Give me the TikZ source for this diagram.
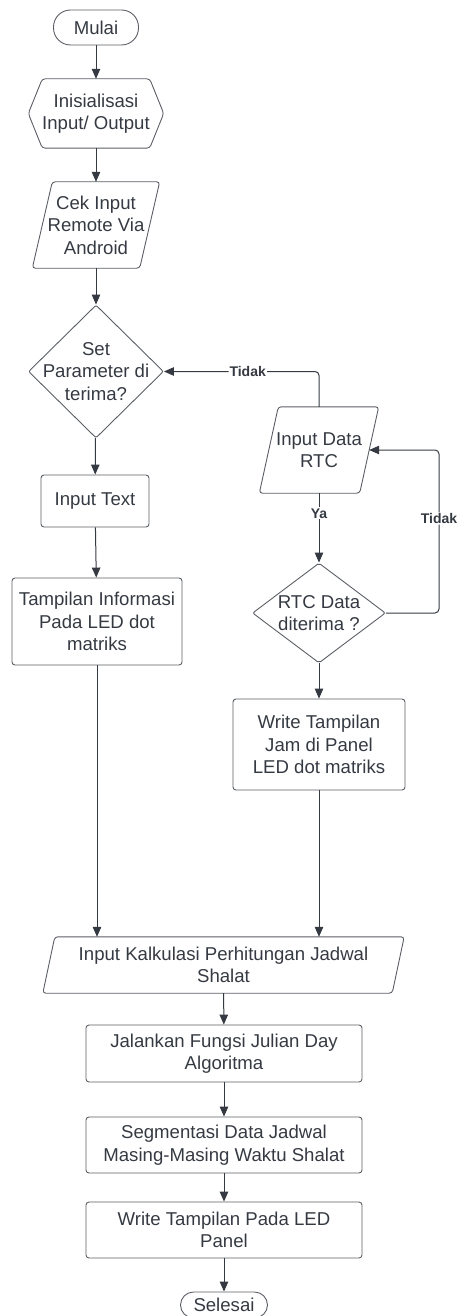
\documentclass[tikz,border=0pt]{standalone}
\usepackage{fontspec}
\setmainfont{Liberation Sans}
\usepackage{xcolor}
\usepackage{tikz}
\usetikzlibrary{positioning, arrows.meta, shapes.geometric}
\definecolor{inkgrey}{HTML}{353A42}
\definecolor{boxgrey}{HTML}{5A5E64}
% slanted outline round a plain node: #1 node name, #2 slant
\newcommand{\ioshape}[2]{\draw [boxline]
  ([xshift=#2/2]#1.north west) -- ([xshift=#2/2]#1.north east)
  -- ([xshift=-#2/2]#1.south east) -- ([xshift=-#2/2]#1.south west) -- cycle;}

\begin{document}
\begin{tikzpicture}[x=1pt, y=-1pt,
  every node/.style={text=inkgrey, font=\fontsize{18.6}{22.5}\selectfont},
  boxline/.style={draw=boxgrey, line width=0.9pt, rounded corners=3pt},
  terminal/.style={boxline, rounded corners=13pt, inner sep=0pt},
  process/.style={boxline, align=center, inner sep=0pt},
  io/.style={align=center, inner sep=0pt},
  decision/.style={boxline, diamond, rounded corners=2pt, inner sep=0pt},
  question/.style={align=center, text=inkgrey},
  flow/.style={draw=inkgrey, line width=1pt, -{Triangle[length=10pt,width=8.5pt]}},
  answer/.style={fill=white, inner sep=1pt, font=\fontsize{14}{16}\selectfont\bfseries}]

\useasboundingbox (0,0) rectangle (460,1316);

% left column
\node [terminal,minimum width=85pt,minimum height=35pt,rounded corners=17pt](mulai) at (96,27.5) {Mulai};

\node [align=center,minimum width=135pt,minimum height=69pt,inner sep=0pt](init io) at (96,113.5) {Inisialisasi\\ Input/ Output};
\draw [boxline]
  ([xshift=14pt]init io.north west) -- ([xshift=-14pt]init io.north east) -- (init io.east)
  -- ([xshift=-14pt]init io.south east) -- ([xshift=14pt]init io.south west) -- (init io.west) -- cycle;

\node [io,minimum width=107pt,minimum height=86pt](cek remote) at (96,225) {Cek Input\\ Remote Via\\ Android};
\ioshape{cek remote}{20pt}

\node [decision,minimum width=135pt,minimum height=133pt,
  label={[question]center:Set\\ Parameter di\\ terima?}](set param) at (96,371.5) {};

\node [process,minimum width=108pt,minimum height=52pt](input text) at (95,501) {Input Text};

\node [process,minimum width=170pt,minimum height=87pt](tampil info) at (97,621.5) {Tampilan Informasi\\ Pada LED dot\\ matriks};

% right column
\node [io,minimum width=100pt,minimum height=86pt](rtc in) at (319,450) {Input Data\\ RTC};
\ioshape{rtc in}{19pt}

\node [decision,minimum width=133pt,minimum height=100pt,
  label={[question]center:RTC Data\\ diterima ?}](rtc dec) at (319,613) {};

\node [process,minimum width=172pt,minimum height=91pt](write jam) at (319,744.5) {Write Tampilan\\ Jam di Panel\\ LED dot matriks};

% bottom column
\node [io,minimum width=349pt,minimum height=56pt](kalk io) at (223.5,965) {Input Kalkulasi Perhitungan Jadwal\\ Shalat};
\ioshape{kalk io}{12pt}

\node [process,minimum width=276pt,minimum height=57pt](julian) at (224,1053.5) {Jalankan Fungsi Julian Day\\ Algoritma};

\node [process,minimum width=276pt,minimum height=56pt](segmen) at (224,1145) {Segmentasi Data Jadwal\\ Masing-Masing Waktu Shalat};

\node [process,minimum width=276pt,minimum height=56pt](write panel) at (224,1230) {Write Tampilan Pada LED\\ Panel};

\node [terminal,minimum width=87pt,minimum height=26pt](selesai) at (224,1305) {Selesai};

\coordinate (loop) at (439,613);

\path [flow] (mulai) -- (init io);
\path [flow] (init io) -- (cek remote);
\path [flow] (cek remote) -- (set param);
\path [flow] (set param) -- (input text);
\path [flow] (input text) -- (tampil info);
\path [flow] (tampil info.south) -- (tampil info.south |- kalk io.north);

\path [flow, rounded corners=4pt] (rtc in.north) |- node[answer,pos=0.73]{Tidak} (set param.east);
\path [flow] (rtc in) -- node[answer,pos=0.29]{Ya} (rtc dec);
\path [flow, rounded corners=4pt] (rtc dec.east) -- (loop) |- node[answer,pos=0.29]{Tidak} (rtc in.east);
\path [flow] (rtc dec) -- (write jam);
\path [flow] (write jam.south) -- (write jam.south |- kalk io.north);

\path [flow] (kalk io) -- (julian);
\path [flow] (julian) -- (segmen);
\path [flow] (segmen) -- (write panel);
\path [flow] (write panel) -- (selesai);
\end{tikzpicture}
\end{document}
